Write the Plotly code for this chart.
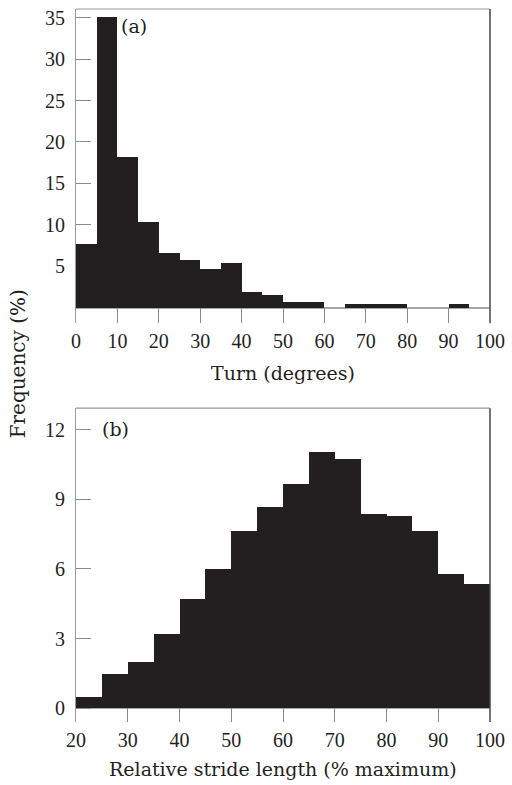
import plotly.graph_objects as go
from plotly.subplots import make_subplots

# ---- data ----
turn_bin_start = [0, 5, 10, 15, 20, 25, 30, 35, 40, 45, 50, 55, 60, 65, 70, 75, 80, 85, 90, 95]
turn_freq = [7.7, 35.1, 18.2, 10.4, 6.6, 5.7, 4.7, 5.4, 1.87, 1.47, 0.66, 0.66, 0.0, 0.46, 0.46, 0.46, 0.0, 0.0, 0.46, 0.0]
turn_ticks = [0, 10, 20, 30, 40, 50, 60, 70, 80, 90, 100]
turn_yticks = [5, 10, 15, 20, 25, 30, 35]

stride_bin_start = [20, 25, 30, 35, 40, 45, 50, 55, 60, 65, 70, 75, 80, 85, 90, 95]
stride_freq = [0.46, 1.48, 1.98, 3.2, 4.71, 5.97, 7.61, 8.66, 9.66, 11.05, 10.72, 8.37, 8.29, 7.61, 5.77, 5.36]
stride_ticks = [20, 30, 40, 50, 60, 70, 80, 90, 100]
stride_yticks = [0, 3, 6, 9, 12]
bin_width = 5

BAR = "#231f20"
TXT = "#231f20"
TICKFONT = dict(family="Liberation Serif", size=20, color=TXT)
TITLEFONT = dict(family="DejaVu Serif", size=19, color=TXT)

fig = make_subplots(rows=2, cols=1, vertical_spacing=0.12)

fig.add_trace(go.Bar(x=[s + bin_width / 2 for s in turn_bin_start], y=turn_freq,
                     width=bin_width, marker=dict(color=BAR, line=dict(width=0)),
                     hoverinfo="skip", showlegend=False), row=1, col=1)
fig.add_trace(go.Bar(x=[s + bin_width / 2 for s in stride_bin_start], y=stride_freq,
                     width=bin_width, marker=dict(color=BAR, line=dict(width=0)),
                     hoverinfo="skip", showlegend=False), row=2, col=1)

common_x = dict(showline=False, ticks="inside", tickcolor="#8a8a8a", tickwidth=1.2,
                showgrid=False, zeroline=False, layer="below traces",
                tickfont=TICKFONT, ticklabelstandoff=4)
common_y = dict(showline=True, linecolor="#9a9a9a", linewidth=1.2, mirror=False,
                ticks="inside", tickcolor="#8a8a8a", tickwidth=1.2, ticklen=15,
                showgrid=False, zeroline=True, zerolinecolor="#a8a8a8", zerolinewidth=1.5,
                layer="below traces",
                tickfont=TICKFONT, ticklabelstandoff=6)

fig.update_layout(
    width=512, height=785,
    margin=dict(l=76, r=20, t=7, b=63),
    paper_bgcolor="white", plot_bgcolor="white",
    bargap=0, hovermode=False,
    xaxis=dict(domain=[0, 1], range=[0, 100], tickvals=turn_ticks, ticklen=15, **common_x),
    yaxis=dict(domain=[0.5594, 1.0], range=[-1.87, 36.05], tickvals=turn_yticks, **common_y),
    xaxis2=dict(domain=[0, 1], range=[20, 100], tickvals=stride_ticks, ticklen=14, **common_x),
    yaxis2=dict(domain=[0.0, 0.4401], range=[-0.60, 12.93], tickvals=stride_yticks, **common_y),
)

# frame: top and right borders
for xr, yr in (("x domain", "y domain"), ("x2 domain", "y2 domain")):
    fig.add_shape(type="line", xref=xr, yref=yr, x0=0, x1=1, y0=1, y1=1,
                  line=dict(color="#9a9a9a", width=1.2), layer="above")
    fig.add_shape(type="line", xref=xr, yref=yr, x0=1, x1=1, y0=0, y1=1,
                  line=dict(color="#444444", width=1.5), layer="above")

fig.add_annotation(text="(a)", xref="x domain", yref="y domain", x=0.1406, y=0.946,
                   showarrow=False, font=TITLEFONT, xanchor="center", yanchor="middle")
fig.add_annotation(text="(b)", xref="x2 domain", yref="y2 domain", x=0.095, y=0.934,
                   showarrow=False, font=TITLEFONT, xanchor="center", yanchor="middle")
fig.add_annotation(text="Turn (degrees)", xref="paper", yref="paper", x=0.5, y=0.4895,
                   showarrow=False, font=TITLEFONT, xanchor="center", yanchor="middle")
fig.add_annotation(text="Relative stride length (% maximum)", xref="paper", yref="paper",
                   x=0.5, y=-0.0657, showarrow=False, font=TITLEFONT,
                   xanchor="center", yanchor="middle")
fig.add_annotation(text="Frequency (%)", xref="paper", yref="paper", x=-0.1394, y=0.502,
                   textangle=-90, showarrow=False,
                   font=dict(family="DejaVu Serif", size=20, color=TXT),
                   xanchor="center", yanchor="middle")

fig.write_html("out.html", config={"displayModeBar": False},
               post_script="document.body.style.margin='0';")
